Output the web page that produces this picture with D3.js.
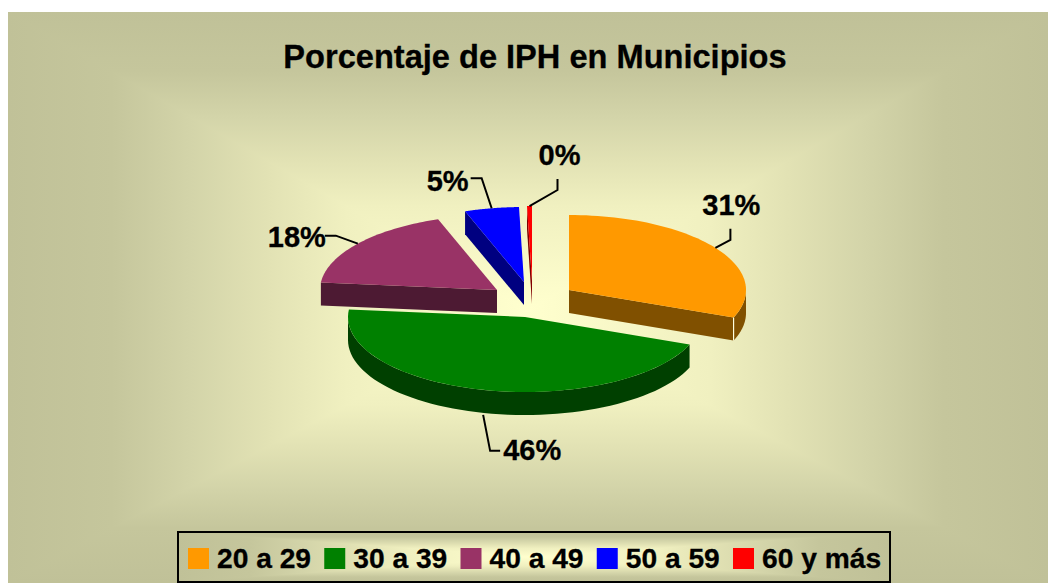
<!DOCTYPE html>
<html><head><meta charset="utf-8">
<script src="https://cdn.jsdelivr.net/npm/d3@7/dist/d3.min.js"></script>
<style>html,body{margin:0;padding:0;background:#fff}svg{display:block}text{font-family:"Liberation Sans",Arial,sans-serif;font-weight:bold;fill:#000;stroke:#000;stroke-width:.3px}</style>
</head><body><svg id="c" width="1048" height="583"></svg>
<script>
const categories = ["20 a 29","30 a 39","40 a 49","50 a 59","60 y más"];
const values = [31,45.6,18,4.95,0.45];
const labels = ["31%","46%","18%","5%","0%"];
const topColors = ["#FF9900","#008000","#993366","#0000FF","#FF0000"];
const sideColors = ["#805000","#004000","#4D1A33","#000080","#800000"];
const title = "Porcentaje de IPH en Municipios";

const W=1048,H=583;
const svg=d3.select("#c");
const defs=svg.append("defs");
const ramp=[[0,"#C0C198"],[.2,"#C5C69C"],[.35,"#D3D4A9"],[.5,"#E2E2B4"],[.65,"#F0F0C0"],[1,"#FFFFCE"]];

// Rectangular "from centre" gradient: vertical ramp as full rects, side triangles on top
function pyramid(id,x0,y0,x1,y1,cx,cy){
  const mk=(n,x1g,y1g,x2g,y2g)=>{const g=defs.append("linearGradient").attr("id",id+n).attr("gradientUnits","userSpaceOnUse")
    .attr("x1",x1g).attr("y1",y1g).attr("x2",x2g).attr("y2",y2g);
    ramp.forEach(([o,c])=>g.append("stop").attr("offset",o).attr("stop-color",c));};
  mk("l",x0,0,cx,0);mk("r",x1,0,cx,0);mk("t",0,y0,0,cy);mk("b",0,y1,0,cy);
  svg.append("rect").attr("x",x0).attr("y",y0).attr("width",x1-x0).attr("height",cy-y0+1).attr("fill",`url(#${id}t)`);
  svg.append("rect").attr("x",x0).attr("y",cy).attr("width",x1-x0).attr("height",y1-cy).attr("fill",`url(#${id}b)`);
  [["l",[[x0,y0],[cx,cy],[x0,y1]]],["r",[[x1,y0],[cx,cy],[x1,y1]]]]
    .forEach(([n,p])=>svg.append("polygon").attr("points",p.join(" ")).attr("fill",`url(#${id}${n})`));
}
pyramid("bg",8,12,W,H,528,310);

svg.append("text").attr("x",535).attr("y",68).attr("text-anchor","middle").attr("font-size",32.6).text(title);

// Pie geometry
const rx=177,ry=75,depth=23;
const explode=[[569,290],[525,317],[497,290],[524,282],[532,281]]; // pie apex after explosion, per slice
const leaderBend=[[[15,-8],[15,-19]],[[7,36],[17,36]],[[-22,-8],[-33,-8]],[[-10,-30],[-21,-30]],[[28,-16],[28,-27]]];
const labelAt=[[1,-14],[3,9],[1,11],[-2,13],[2,-14]];
const labelAnchor=["middle","start","end","end","middle"];
const arcs=d3.pie().sort(null).startAngle(0).endAngle(2*Math.PI)(values);
const sx=d3.scaleLinear().domain([-1,1]).range([-rx,rx]);
const sy=d3.scaleLinear().domain([-1,1]).range([-ry,ry]);
const pt=(i,a,dz=0)=>[explode[i][0]+sx(Math.sin(a)),explode[i][1]+sy(-Math.cos(a))+dz];
const rimPts=(i,a0,a1,dz=0)=>d3.range(0,61).map(k=>pt(i,a0+(a1-a0)*k/60,dz));
const line=d3.line();

const order=[2,3,4,0,1];
order.forEach(i=>{
  const {startAngle:a0,endAngle:a1}=arcs[i];
  const apex=explode[i],apexLow=[apex[0],apex[1]+depth];
  const g=svg.append("g");
  const pi=Math.PI;
  if(Math.sin(a1)>0&&Math.cos(a1)<0){ // end edge faces forward (right-hand front)
    g.append("path").attr("d",line([apex,pt(i,a1),pt(i,a1,depth),apexLow])+"Z").attr("fill",sideColors[i]);
  }
  if(Math.sin(a0)<0&&a0>pi){ // start edge of the left side slices
    g.append("path").attr("d",line([apex,pt(i,a0),pt(i,a0,depth),apexLow])+"Z").attr("fill",sideColors[i]);
  }
  // outer wall: visible part between 90° and 270°
  const v0=Math.max(a0,pi/2),v1=Math.min(a1,3*pi/2);
  if(v1>v0){
    const up=rimPts(i,v0,v1),dn=rimPts(i,v0,v1,depth).reverse();
    g.append("path").attr("d",line(up.concat(dn))+"Z").attr("fill",sideColors[i]);
  }
  g.append("path").attr("d",line([apex].concat(rimPts(i,a0,a1)))+"Z").attr("fill",topColors[i]);
  if(i===0){
    g.append("line").attr("x1",pt(i,a1)[0]).attr("y1",pt(i,a1)[1]).attr("x2",pt(i,a1)[0]).attr("y2",pt(i,a1,depth)[1]).attr("stroke","#FFFFE0").attr("stroke-width",1.2);
  }
});

// Leaders and labels
arcs.forEach((d,i)=>{
  const m=(d.startAngle+d.endAngle)/2;
  const s=pt(i,m,i===1?depth+2:0);
  const pts=[s].concat(leaderBend[i].map(o=>[s[0]+o[0],s[1]+o[1]]));
  svg.append("path").attr("d",line(pts)).attr("fill","none").attr("stroke","#000").attr("stroke-width",2);
  const e=pts[pts.length-1],o=labelAt[i];
  svg.append("text").attr("x",e[0]+o[0]).attr("y",e[1]+o[1]).attr("text-anchor",labelAnchor[i]).attr("font-size",29).text(labels[i]);
});

// Legend
const lx0=178,ly0=532,lx1=890,ly1=582;
pyramid("lg",lx0,ly0,lx1,ly1,(lx0+lx1)/2,(ly0+ly1)/2);
svg.append("rect").attr("x",lx0).attr("y",ly0).attr("width",lx1-lx0).attr("height",ly1-ly0).attr("fill","none").attr("stroke","#000").attr("stroke-width",2);
const lxs=d3.scalePoint().domain(categories).range([188,733]);
categories.forEach((c,i)=>{
  svg.append("rect").attr("x",lxs(c)).attr("y",548).attr("width",21).attr("height",21).attr("fill",topColors[i]);
  svg.append("text").attr("x",lxs(c)+29).attr("y",568).attr("font-size",28.2).text(c);
});
</script></body></html>
